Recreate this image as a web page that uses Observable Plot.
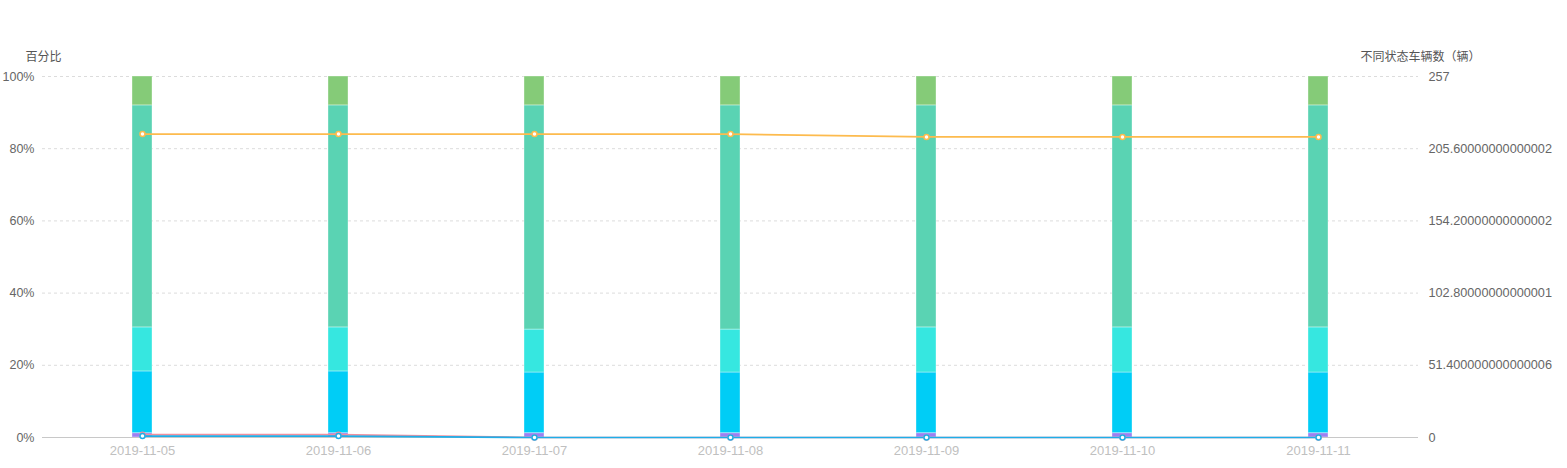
<!DOCTYPE html>
<html>
<head>
<meta charset="utf-8">
<script src="https://cdn.jsdelivr.net/npm/d3@7"></script>
<script src="https://cdn.jsdelivr.net/npm/@observablehq/plot@0.6"></script>
<style>
  html, body { margin: 0; padding: 0; background: #fff; }
  #chart svg { display: block; }
</style>
</head>
<body>
<div id="chart"></div>
<script>
// ---- data ----
const dates = ["2019-11-05", "2019-11-06", "2019-11-07", "2019-11-08", "2019-11-09", "2019-11-10", "2019-11-11"];

// stacked shares (%) bottom to top
const stackNames  = ["状态一", "状态二", "状态三", "状态四", "状态五"];
const stackColors = ["#9d80f2", "#00cdf6", "#36e7e0", "#5ad3b3", "#85cb78"];
const share1 = [1.2, 1.2, 1.2, 1.2, 1.2, 1.2, 1.2];
const share2 = [17.1, 17.1, 16.8, 16.8, 16.8, 16.8, 16.8];
const share3 = [12.2, 12.2, 11.9, 11.9, 12.5, 12.5, 12.5];
const share4 = [61.5, 61.5, 62.1, 62.1, 61.5, 61.5, 61.5];
const share5 = [8.0, 8.0, 8.0, 8.0, 8.0, 8.0, 8.0];
const shares = [share1, share2, share3, share4, share5];

// vehicle counts (right axis)
const totalVehicles = 257;
const lineNames  = ["车辆A", "车辆B", "车辆C"];
const lineColors = ["#fdbb4e", "#f0909f", "#1eaee8"];
const countA = [216, 216, 216, 216, 214, 214, 214];
const countB = [2, 2, 0, 0, 0, 0, 0];
const countC = [1, 1, 0, 0, 0, 0, 0];
const counts = [countA, countB, countC];

const leftTicks = [0, 20, 40, 60, 80, 100];
const leftLabels = ["0%", "20%", "40%", "60%", "80%", "100%"];
const rightLabels = ["0", "51.400000000000006", "102.80000000000001", "154.20000000000002", "205.60000000000002", "257"];

// ---- tables ----
const stackRows = [];
shares.forEach((arr, s) => arr.forEach((v, i) => stackRows.push({date: dates[i], series: stackNames[s], value: v})));
const lineRows = [];
counts.forEach((arr, s) => arr.forEach((v, i) => lineRows.push({date: dates[i], series: lineNames[s], count: v})));
const toPct = d => d.count / totalVehicles * 100;

const font = "'Helvetica Neue', 'Liberation Sans', Arial, 'Noto Sans CJK SC', sans-serif";

const chart = Plot.plot({
  width: 1567,
  height: 468,
  marginLeft: 42,
  marginRight: 149,
  marginTop: 76,
  marginBottom: 31,
  style: {fontFamily: font, fontSize: "12px", background: "#fff"},
  x: {type: "band", domain: dates, paddingInner: 0.898, paddingOuter: 0.449, align: 0.5},
  y: {domain: [0, 100]},
  color: {domain: stackNames.concat(lineNames), range: stackColors.concat(lineColors)},
  marks: [
    Plot.gridY(leftTicks.slice(1), {stroke: "#dcdcdc", strokeOpacity: 1, strokeDasharray: "3,3"}),
    Plot.barY(stackRows, {x: "date", y: "value", fill: "series", stroke: "#ffffff", strokeOpacity: 0.35, strokeWidth: 1}),
    Plot.ruleY([0], {stroke: "#c8c8c8"}),
    Plot.line(lineRows, {x: "date", y: toPct, z: "series", stroke: "series", strokeWidth: 1.7}),
    Plot.dot(lineRows, {x: "date", y: toPct, stroke: "series", fill: "#fff", r: 2.5, strokeWidth: 1.5}),
    Plot.axisY(leftTicks, {anchor: "left", tickSize: 0, tickPadding: 8, color: "#666", fontSize: 12.5, tickFormat: (d, i) => leftLabels[i], label: null}),
    Plot.axisY(leftTicks, {anchor: "right", tickSize: 0, tickPadding: 10, color: "#666", fontSize: 12.7, tickFormat: (d, i) => rightLabels[i], label: null}),
    Plot.axisX({tickSize: 0, tickPadding: 8, color: "#c0c0c0", fontSize: 13, label: null}),
    Plot.text(["百分比"], {frameAnchor: "top-left", dx: -17, dy: -24, textAnchor: "start", fill: "#555", fontSize: 12}),
    Plot.text(["不同状态车辆数（辆）"], {frameAnchor: "top-right", dx: -58, dy: -24, textAnchor: "start", fill: "#555", fontSize: 12})
  ]
});
document.getElementById("chart").appendChild(chart);
</script>
</body>
</html>
